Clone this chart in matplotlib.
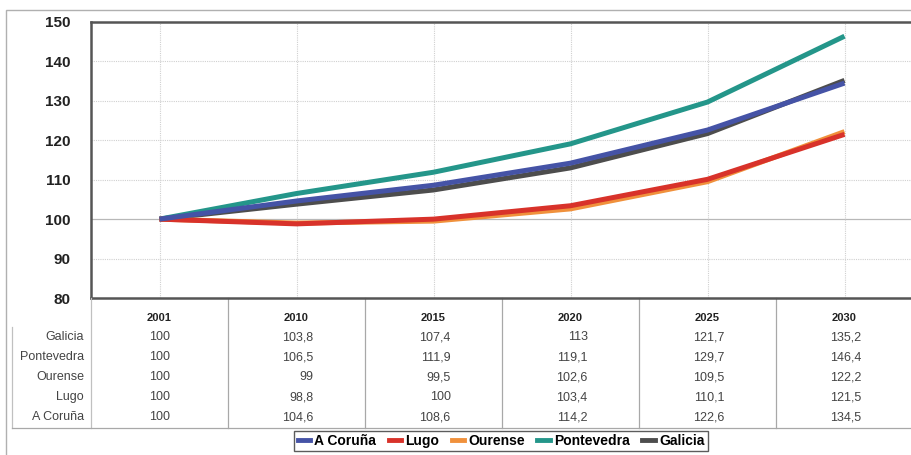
import numpy as np
import matplotlib.pyplot as plt
from matplotlib.lines import Line2D
from matplotlib.patches import Rectangle
import matplotlib.transforms as mtransforms

plt.rcParams['font.family'] = ['Liberation Sans', 'DejaVu Sans']

years = ['2001', '2010', '2015', '2020', '2025', '2030']
a_coruna = [100, 104.6, 108.6, 114.2, 122.6, 134.5]
lugo = [100, 98.8, 100, 103.4, 110.1, 121.5]
ourense = [100, 99, 99.5, 102.6, 109.5, 122.2]
pontevedra = [100, 106.5, 111.9, 119.1, 129.7, 146.4]
galicia = [100, 103.8, 107.4, 113, 121.7, 135.2]

names = ['A Coruña', 'Lugo', 'Ourense', 'Pontevedra', 'Galicia']
colors = ['#4553a6', '#d8322a', '#f0913c', '#24968a', '#4d4d4d']
series = [a_coruna, lugo, ourense, pontevedra, galicia]
# table rows are listed in reverse order
table_rows = list(zip(names, series))[::-1]

W, H = 911, 455
fig = plt.figure(figsize=(W / 100, H / 100), dpi=100)

def fy(py):
    return 1 - py / H

def fx(px):
    return px / W

# outer frame of the chart object
fig.add_artist(Rectangle((fx(6), fy(500)), 2, fy(10) - fy(500), transform=fig.transFigure,
                         fill=False, edgecolor='#b0b0b0', lw=1.0))

ax = fig.add_axes([fx(91), fy(298), fx(822), fy(22) - fy(298)])
x = np.arange(len(years))

# draw Galicia first so A Coruña sits on top, same for Ourense / Lugo
order = [4, 3, 2, 1, 0]
for i in order:
    ax.plot(x, series[i], color=colors[i], lw=3.6, solid_capstyle='butt', zorder=3)

ax.set_xlim(-0.5, 5.5)
ax.set_ylim(80, 150)
ax.set_yticks(range(80, 151, 10))
ax.set_yticklabels([str(v) for v in range(80, 151, 10)], fontsize=11, fontweight='bold', color='#222222')
ax.tick_params(axis='y', length=0, pad=15)
ax.set_xticks([])

for v in [90, 110, 120, 130, 140]:
    ax.axhline(v, color='#d0d0d0', lw=0.8, ls=(0, (1, 1)), zorder=1)
ax.axhline(100, color='#b8b8b8', lw=0.9, zorder=1)
for xi in x:
    ax.axvline(xi, color='#d0d0d0', lw=0.8, ls=(0, (1, 1)), zorder=1)

for side in ['left', 'top', 'bottom']:
    ax.spines[side].set_color('#555555')
    ax.spines[side].set_linewidth(1.8)
ax.spines['right'].set_visible(False)

# data table under the axes
tr = mtransforms.blended_transform_factory(ax.transData, fig.transFigure)
y_top, y_bot = 298, 428
for b in np.arange(0.5, 5.5, 1.0):
    ax.add_line(Line2D([b, b], [fy(y_top), fy(y_bot)], transform=tr, color='#a8a8a8', lw=0.9, clip_on=False))
fig.add_artist(Line2D([fx(91), fx(91)], [fy(y_top), fy(y_bot)], color='#c0c0c0', lw=0.9))
fig.add_artist(Line2D([fx(12), fx(12)], [fy(327), fy(y_bot)], color='#c0c0c0', lw=0.9))
fig.add_artist(Line2D([fx(12), 1.0], [fy(y_bot), fy(y_bot)], color='#a8a8a8', lw=0.9))

for j, yr in enumerate(years):
    ax.text(j, fy(318), yr, transform=tr, ha='center', va='center', fontsize=8, fontweight='bold', color='#222222')

row_y = [337, 357, 377, 397, 417]
for (name, vals), py in zip(table_rows, row_y):
    fig.text(fx(84), fy(py), name, ha='right', va='center', fontsize=9, color='#444444')
    for j, v in enumerate(vals):
        s = ('%g' % v).replace('.', ',')
        if j == 0:
            ax.text(j, fy(py), s, transform=tr, ha='center', va='center', fontsize=9, color='#444444')
        else:
            ax.text(j + 0.125, fy(py), s, transform=tr, ha='right', va='center', fontsize=9, color='#444444')

handles = [Line2D([], [], color=c, lw=3.5) for c in colors]
leg = fig.legend(handles, names, loc='center', bbox_to_anchor=(fx(501), fy(441)), ncol=5,
                 frameon=True, fancybox=False, handlelength=0.9, handletextpad=0.3,
                 columnspacing=0.9, borderpad=0.25, prop={'weight': 'bold', 'size': 10})
leg.get_frame().set_edgecolor('#333333')
leg.get_frame().set_linewidth(1.0)

plt.savefig('out.png', dpi=100)
